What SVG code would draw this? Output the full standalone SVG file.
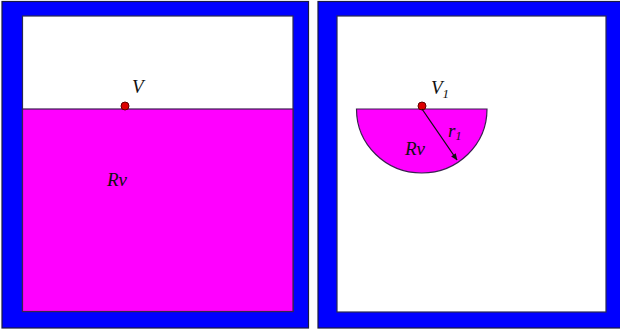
<svg xmlns="http://www.w3.org/2000/svg" width="620" height="331" viewBox="0 0 620 331">
<style>
.frame{fill:#0000ff;stroke:#1a1a40;stroke-width:1.2}
.inner{fill:#ffffff;stroke:#2a2a50;stroke-width:1.2}
.fill{fill:#ff00ff;stroke:#3a2050;stroke-width:1.2}
.dot{fill:#dd0000;stroke:#600000;stroke-width:1}
.lbl{font-family:"Liberation Serif",serif;font-style:italic;font-size:19px;fill:#111}
</style>
<defs>
<marker id="ah" viewBox="0 0 10 10" refX="9" refY="5" markerWidth="7" markerHeight="7" orient="auto" markerUnits="userSpaceOnUse">
<path d="M0,1 L10,5 L0,9 Z" fill="#111"/>
</marker>
</defs>
<rect width="620" height="331" fill="#ffffff"/>
<g id="left-panel">
<rect class="frame" x="2" y="1.5" width="306.5" height="326.5"/>
<rect class="inner" x="22.5" y="16" width="270.5" height="295.5"/>
<rect class="fill" x="22.5" y="109" width="270.5" height="202.5"/>
<circle class="dot" cx="125" cy="106" r="4"/>
<text class="lbl" x="132" y="93">V</text>
<text class="lbl" x="107" y="186">Rv</text>
</g>
<g id="right-panel">
<rect class="frame" x="318" y="1.5" width="303" height="326.5"/>
<rect class="inner" x="337" y="16" width="269" height="296"/>
<path class="fill" d="M356.5,109 L487,109 A65.25,64 0 0 1 356.5,109 Z"/>
<circle class="dot" cx="422" cy="106" r="4"/>
<text class="lbl" x="431" y="94">V<tspan font-size="13" dy="4">1</tspan></text>
<text class="lbl" x="448" y="137">r<tspan font-size="12" dy="3">1</tspan></text>
<text class="lbl" x="405" y="155">Rv</text>
</g>
<g id="connectors">
<line x1="422" y1="109" x2="457" y2="160" stroke="#111" stroke-width="1.3" marker-end="url(#ah)"/>
</g>
</svg>
